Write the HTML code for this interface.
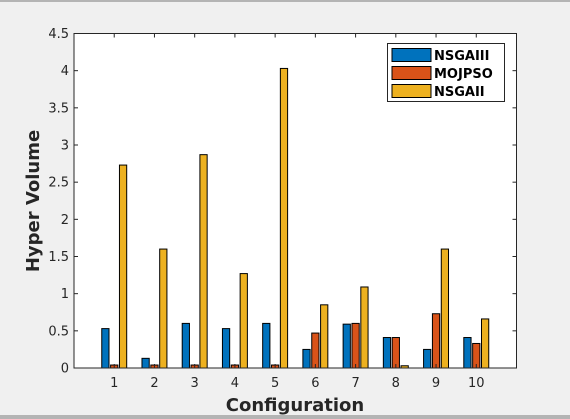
<!DOCTYPE html>
<html><head><meta charset="utf-8"><style>
body{margin:0;width:570px;height:419px;background:#f0f0f0;overflow:hidden;font-family:"Liberation Sans","DejaVu Sans",sans-serif}
</style></head><body>
<svg id="c" width="570" height="419" style="position:absolute;left:0;top:0">
<rect x="0" y="0" width="570" height="2" fill="#b4b4b4"/>
<rect x="0" y="415" width="570" height="4" fill="#b4b4b4"/>
<rect x="74" y="33.5" width="442.5" height="334.5" fill="#fff"/>
<g id="bars"></g>
<g id="axes"></g>
<text x="295" y="411" text-anchor="middle" font-size="18" font-weight="bold" fill="#262626" font-family="DejaVu Sans, sans-serif">Configuration</text>
<text transform="translate(39,201) rotate(-90)" text-anchor="middle" font-size="18" font-weight="bold" fill="#262626" font-family="DejaVu Sans, sans-serif">Hyper Volume</text>
<g>
<rect x="387.5" y="43.5" width="117" height="58" fill="#fff" stroke="#262626" stroke-width="1"/>
<g><rect x="392" y="48.5" width="39" height="13" fill="#0072bd" stroke="#000"/><text x="434" y="60" font-size="13" font-weight="bold" font-family="DejaVu Sans, sans-serif">NSGAIII</text></g>
<g><rect x="392" y="66.5" width="39" height="13" fill="#d95319" stroke="#000"/><text x="434" y="78" font-size="13" font-weight="bold" font-family="DejaVu Sans, sans-serif">MOJPSO</text></g>
<g><rect x="392" y="84.5" width="39" height="13" fill="#edb120" stroke="#000"/><text x="434" y="96" font-size="13" font-weight="bold" font-family="DejaVu Sans, sans-serif">NSGAII</text></g>
</g>
</svg>
<script>
const categories=[1,2,3,4,5,6,7,8,9,10];
const nsga3=[0.53,0.13,0.60,0.53,0.60,0.25,0.59,0.41,0.25,0.41];
const mojpso=[0.04,0.04,0.04,0.04,0.04,0.47,0.60,0.41,0.73,0.33];
const nsga2=[2.73,1.60,2.87,1.27,4.03,0.85,1.09,0.03,1.60,0.66];
const yTicks=[0,0.5,1,1.5,2,2.5,3,3.5,4,4.5];
const yTickLabels=["0","0.5","1","1.5","2","2.5","3","3.5","4","4.5"];
const L=74,R=516.5,T=33.5,B=368;
const xs=v=>L+(v-0)/11*(R-L);
const ys=v=>B-v/4.5*(B-T);
const NS="http://www.w3.org/2000/svg";
function mk(tag,at,parent){const e=document.createElementNS(NS,tag);for(const k in at)e.setAttribute(k,at[k]);parent.appendChild(e);return e;}
const bars=document.getElementById('bars'),axes=document.getElementById('axes');
const series=[[nsga3,'#0072bd',-0.22],[mojpso,'#d95319',0],[nsga2,'#edb120',0.22]];
const bw=0.18;
series.forEach(([vals,col,off])=>{
  vals.forEach((v,i)=>{
    const x0=xs(categories[i]+off-bw/2),x1=xs(categories[i]+off+bw/2);
    const r=mk('rect',{x:x0,y:ys(v),width:x1-x0,height:B-ys(v),fill:col,stroke:'#000','stroke-width':1},bars);
    
    
  });
});
mk('rect',{x:L,y:T,width:R-L,height:B-T,fill:'none',stroke:'#262626','stroke-width':1},axes);
yTicks.forEach((t,i)=>{
  const y=ys(t);
  mk('line',{x1:L,x2:L+4,y1:y,y2:y,stroke:'#262626'},axes);
  mk('line',{x1:R,x2:R-4,y1:y,y2:y,stroke:'#262626'},axes);
  const tx=mk('text',{x:L-5,y:y+4.5,'text-anchor':'end','font-size':13,fill:'#262626','font-family':'DejaVu Sans, sans-serif'},axes);
  tx.textContent=yTickLabels[i];
  
  
});
categories.forEach(c=>{
  const x=xs(c);
  mk('line',{x1:x,x2:x,y1:B,y2:B-4,stroke:'#262626'},axes);
  mk('line',{x1:x,x2:x,y1:T,y2:T+4,stroke:'#262626'},axes);
  const tx=mk('text',{x:x,y:B+19,'text-anchor':'middle','font-size':13,fill:'#262626','font-family':'DejaVu Sans, sans-serif'},axes);
  tx.textContent=String(c);
  
  
});
</script>
</body></html>
